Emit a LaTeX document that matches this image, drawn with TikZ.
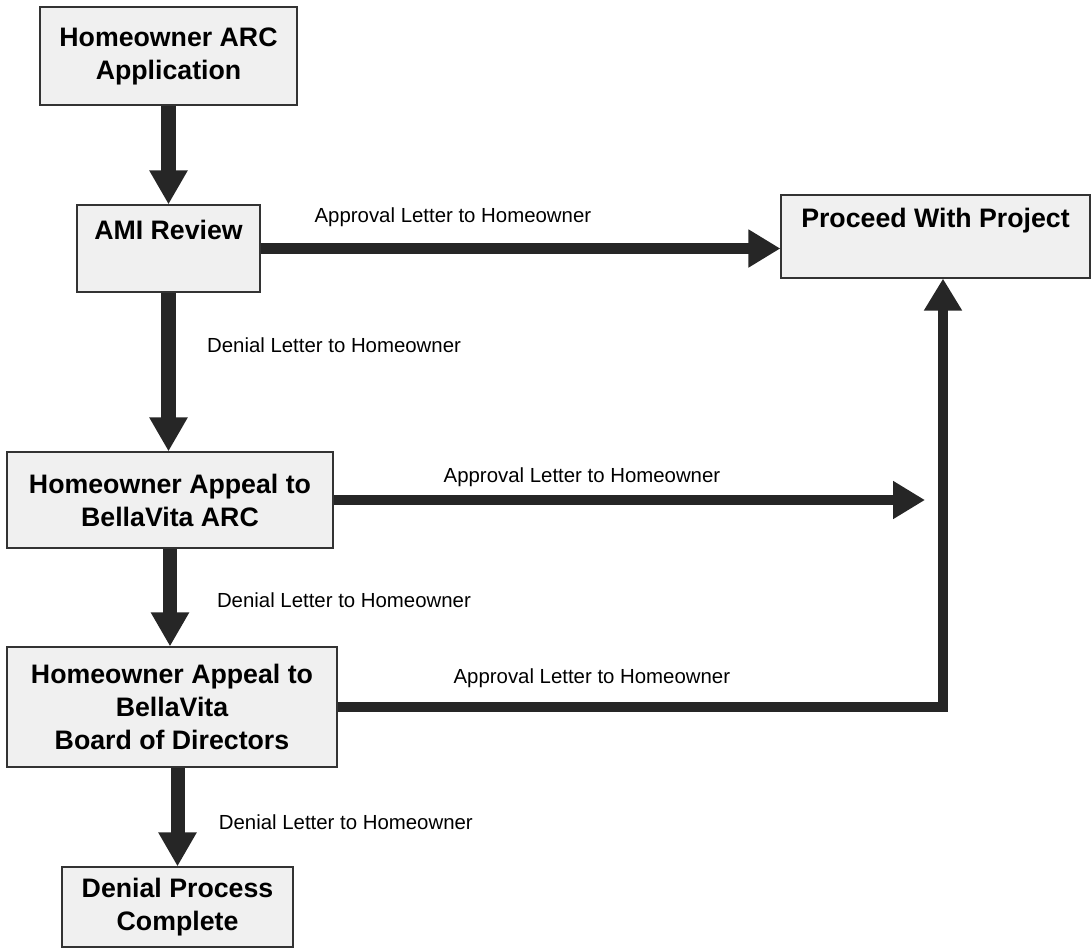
\documentclass[tikz,border=0pt]{standalone}
\usepackage{fontspec}
\setmainfont{Liberation Sans}
\usetikzlibrary{arrows.meta,calc,positioning}

\begin{document}
\begin{tikzpicture}[x=0.025cm,y=-0.025cm,
  box/.style={draw=black!80,fill=gray!12,line width=0.8pt,inner sep=0pt,align=center,
    font=\fontsize{19}{23.5}\selectfont\bfseries},
  lbl/.style={font=\fontsize{14.5}{17}\selectfont,inner sep=0pt},
  vflow/.style={draw=black!85,line width=0.35cm,-{Triangle[width=0.9cm,length=0.85cm]}},
  hflow/.style={draw=black!85,line width=0.26cm,line join=miter,-{Triangle[width=0.9cm,length=0.8cm]}}]
\useasboundingbox (0,0) rectangle (1092,950);
\node[box,minimum width=6.425cm,minimum height=2.45cm] (app) at (168.5,56) {Homeowner ARC\\Application};
\node[box,minimum width=4.575cm,minimum height=2.175cm,text depth=0.925cm] (ami) at (168.5,248.5) {AMI Review};
\node[box,minimum width=8.15cm,minimum height=2.4cm] (arc) at (170,500) {Homeowner Appeal to\\BellaVita ARC};
\node[box,minimum width=8.25cm,minimum height=3cm] (bod) at (172,707) {Homeowner Appeal to\\BellaVita\\Board of Directors};
\node[box,minimum width=5.775cm,minimum height=2cm] (fin) at (177.5,907) {Denial Process\\Complete};
\node[box,minimum width=7.725cm,minimum height=2.075cm,text depth=0.925cm] (done) at (935.5,236.5) {Proceed With Project};
\coordinate (arcend) at (925,500);
\coordinate (bend) at (943,707);
% denial path
\draw[vflow] (app.south) -- (ami.north);
\draw[vflow] (ami.south) -- (ami.south |- arc.north)
  node[lbl,pos=0.375,anchor=base west,xshift=0.79cm] (deny1) {Denial Letter to Homeowner};
\draw[vflow] (arc.south) -- (arc.south |- bod.north)
  node[lbl,pos=0.6,anchor=base west,xshift=1cm] (deny2) {Denial Letter to Homeowner};
\draw[vflow] (fin.north |- bod.south) -- (fin.north)
  node[lbl,pos=0.63,anchor=base west,xshift=0.86cm] (deny3) {Denial Letter to Homeowner};
% approval path
\draw[hflow] (ami.east) -- (ami.east -| done.west)
  node[lbl,pos=0.37,anchor=base,yshift=0.66cm] (ok1) {Approval Letter to Homeowner};
\draw[hflow] (arc.east) -- (arcend)
  node[lbl,pos=0.42,anchor=base,yshift=0.45cm] (ok2) {Approval Letter to Homeowner};
\draw[hflow] (bod.east) -- (bend)
  node[lbl,pos=0.42,anchor=base,yshift=0.6cm] (ok3) {Approval Letter to Homeowner}
  -- (bend |- done.south);
\end{tikzpicture}
\end{document}
